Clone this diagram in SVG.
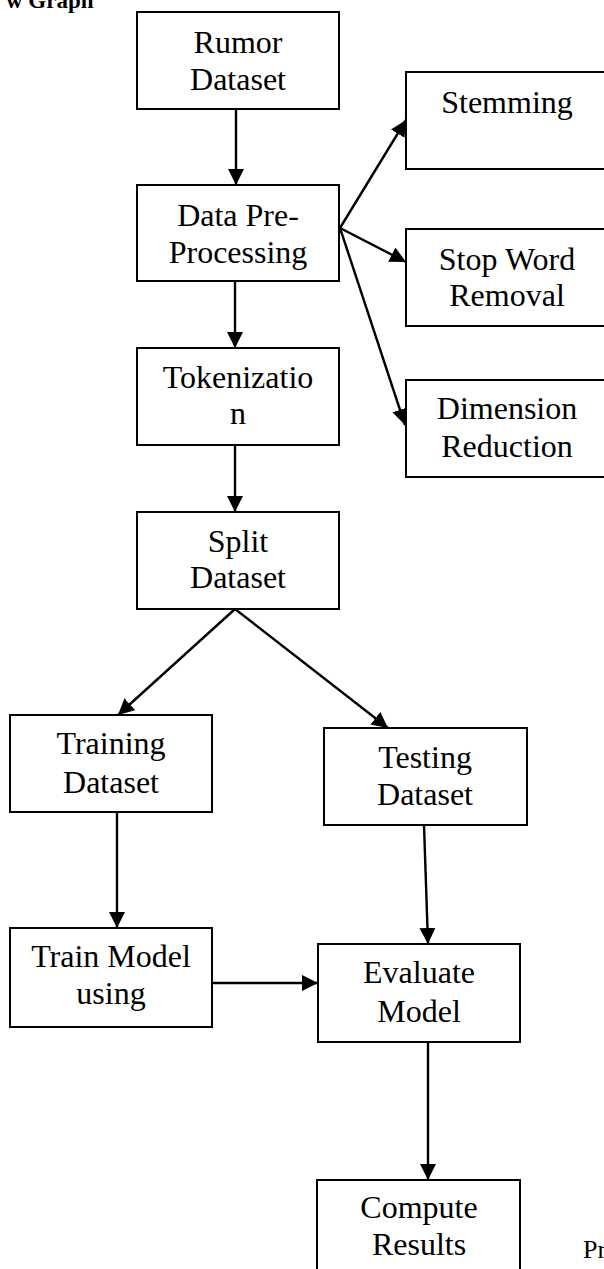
<svg xmlns="http://www.w3.org/2000/svg" width="604" height="1269" viewBox="0 0 604 1269">
<style>
.box{fill:#fff;stroke:#000;stroke-width:2}
.t{font-family:"Liberation Serif","Times New Roman",serif;font-size:32px;fill:#000;text-anchor:middle}
.c{stroke:#000;stroke-width:2.4;fill:none}
.a{marker-end:url(#ah)}
</style>
<defs>
<marker id="ah" markerUnits="userSpaceOnUse" markerWidth="17" markerHeight="17" refX="16" refY="8" orient="auto">
<path d="M0,0 L16,8 L0,16 Z" fill="#000"/>
</marker>
</defs>
<rect width="604" height="1269" fill="#fff"/>
<text x="6" y="8" font-family="Liberation Serif,serif" font-size="23" font-weight="bold">w Graph</text>
<text x="583" y="1258" font-family="Liberation Serif,serif" font-size="26">Pr</text>
<g id="connectors">
<line class="c a" x1="236" y1="109" x2="236" y2="185"/>
<line class="c a" x1="340" y1="228" x2="406" y2="120"/>
<line class="c a" x1="340" y1="228" x2="406" y2="262"/>
<line class="c a" x1="340" y1="228" x2="405" y2="425"/>
<line class="c a" x1="235" y1="281" x2="235" y2="348"/>
<line class="c a" x1="235" y1="445" x2="235" y2="512"/>
<line class="c a" x1="235" y1="609" x2="118" y2="715"/>
<line class="c a" x1="235" y1="609" x2="388" y2="728"/>
<line class="c a" x1="117" y1="812" x2="117" y2="928"/>
<line class="c a" x1="424" y1="825" x2="428" y2="944"/>
<line class="c a" x1="212" y1="983" x2="318" y2="983"/>
<line class="c a" x1="428" y1="1042" x2="428" y2="1180"/>
</g>
<g id="rumor"><rect class="box" x="137" y="12" width="202" height="97"/><text class="t" x="238" y="53">Rumor</text><text class="t" x="238" y="90">Dataset</text></g>
<g id="preprocessing"><rect class="box" x="137" y="185" width="202" height="96"/><text class="t" x="238" y="226">Data Pre-</text><text class="t" x="238" y="263">Processing</text></g>
<g id="stemming"><rect class="box" x="406" y="72" width="204" height="97"/><text class="t" x="507" y="113">Stemming</text></g>
<g id="stopword"><rect class="box" x="406" y="229" width="204" height="97"/><text class="t" x="507" y="270">Stop Word</text><text class="t" x="507" y="306">Removal</text></g>
<g id="dimension"><rect class="box" x="406" y="380" width="204" height="97"/><text class="t" x="507" y="419">Dimension</text><text class="t" x="507" y="457">Reduction</text></g>
<g id="tokenization"><rect class="box" x="137" y="348" width="202" height="97"/><text class="t" x="238" y="388">Tokenizatio</text><text class="t" x="238" y="424">n</text></g>
<g id="split"><rect class="box" x="137" y="512" width="202" height="97"/><text class="t" x="238" y="552">Split</text><text class="t" x="238" y="588">Dataset</text></g>
<g id="training"><rect class="box" x="10" y="715" width="202" height="97"/><text class="t" x="111" y="754">Training</text><text class="t" x="111" y="793">Dataset</text></g>
<g id="testing"><rect class="box" x="324" y="728" width="203" height="97"/><text class="t" x="425" y="768">Testing</text><text class="t" x="425" y="805">Dataset</text></g>
<g id="trainmodel"><rect class="box" x="10" y="928" width="202" height="99"/><text class="t" x="111" y="967">Train Model</text><text class="t" x="111" y="1004">using</text></g>
<g id="evaluate"><rect class="box" x="318" y="944" width="202" height="98"/><text class="t" x="419" y="983">Evaluate</text><text class="t" x="419" y="1022">Model</text></g>
<g id="compute"><rect class="box" x="317" y="1180" width="203" height="100"/><text class="t" x="419" y="1218">Compute</text><text class="t" x="419" y="1255">Results</text></g>
</svg>
